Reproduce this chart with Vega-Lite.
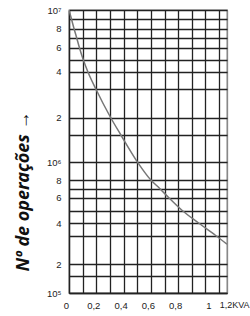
{
  "$schema": "https://vega.github.io/schema/vega-lite/v6.json",
  "width": 158,
  "height": 283,
  "autosize": "none",
  "padding": {"left": 69, "top": 10, "right": 23, "bottom": 23},
  "background": "white",
  "config": {"view": {"stroke": "#888", "strokeWidth": 1.3}},
  "data": {"values": [
    {"kva": 0, "ops": 10000000},
    {"kva": 0.018, "ops": 9000000},
    {"kva": 0.037, "ops": 8000000},
    {"kva": 0.056, "ops": 7000000},
    {"kva": 0.076, "ops": 6000000},
    {"kva": 0.104, "ops": 5000000},
    {"kva": 0.138, "ops": 4000000},
    {"kva": 0.195, "ops": 3000000},
    {"kva": 0.305, "ops": 2000000},
    {"kva": 0.378, "ops": 1500000},
    {"kva": 0.503, "ops": 1000000},
    {"kva": 0.6, "ops": 800000},
    {"kva": 0.665, "ops": 700000},
    {"kva": 0.73, "ops": 600000},
    {"kva": 0.83, "ops": 500000},
    {"kva": 0.95, "ops": 400000},
    {"kva": 1.075, "ops": 300000},
    {"kva": 1.158, "ops": 265000}
  ]},
  "mark": {"type": "line", "color": "#777", "strokeWidth": 1.5, "clip": true, "interpolate": "monotone"},
  "encoding": {
    "x": {
      "field": "kva", "type": "quantitative",
      "scale": {"domain": [0, 1.158], "nice": false, "zero": false},
      "axis": {
        "title": null,
        "values": [0, 0.1, 0.2, 0.3, 0.4, 0.5, 0.6, 0.7, 0.8, 0.9, 1, 1.1, 1.158],
        "labelExpr": "datum.value > 1.15 ? '1,2KVA' : (round(datum.value*10) % 2 == 0 ? replace(format(datum.value, '.1~f'), '.', ',') : '')",
        "grid": true,
        "gridColor": {"condition": {"test": "datum.value > 1.15", "value": "#888"}, "value": "#222"},
        "gridWidth": 1.3,
        "gridOpacity": 1,
        "ticks": false,
        "domain": true,
        "domainColor": "#222",
        "domainWidth": 1.3,
        "labelOverlap": false,
        "labelFlush": false,
        "labelBound": false,
        "labelFont": "Liberation Sans, sans-serif",
        "labelFontSize": {"condition": {"test": "datum.value > 1.15", "value": 9}, "value": 9.5},
        "labelColor": "#222",
        "labelPadding": 7,
        "labelAlign": {"condition": {"test": "datum.value > 1.15", "value": "right"}, "value": "center"},
        "labelOffset": {"condition": [{"test": "datum.value == 1", "value": 3}, {"test": "datum.value > 1.15", "value": 22}], "value": -3}
      }
    },
    "y": {
      "field": "ops", "type": "quantitative",
      "scale": {
        "type": "log",
        "domain": [100000, 150000, 200000, 300000, 400000, 500000, 600000, 700000, 800000, 1000000, 1500000, 2000000, 3000000, 4000000, 5000000, 6000000, 7000000, 8000000, 9000000, 10000000],
        "range": [283, 266, 254, 225.5, 213, 200.5, 187.5, 178.5, 170, 152.3, 124.5, 107.5, 78.5, 61.7, 49.5, 37.5, 27.7, 18.7, 9, 0],
        "nice": false
      },
      "axis": {
        "title": "Nº de operações →",
        "titleFont": "Noto Sans, Open Sans, sans-serif",
        "titleFontSize": 18,
        "titleFontStyle": "italic",
        "titleFontWeight": "bold",
        "titleColor": "#111",
        "titleX": -46,
        "titleY": 181,
        "titleAlign": "center",
        "titleBaseline": "middle",
        "values": [100000, 150000, 200000, 300000, 400000, 500000, 600000, 700000, 800000, 1000000, 1500000, 2000000, 3000000, 4000000, 5000000, 6000000, 7000000, 8000000, 9000000, 10000000],
        "labelExpr": "datum.value == 100000 ? '10⁵' : datum.value == 1000000 ? '10⁶' : datum.value == 10000000 ? '10⁷' : (indexof([200000, 400000, 600000, 800000, 2000000, 4000000, 6000000, 8000000], datum.value) >= 0 ? format(datum.value / pow(10, floor(log(datum.value) / LN10)), 'd') : '')",
        "grid": true,
        "gridColor": "#222",
        "gridWidth": 1.3,
        "gridOpacity": 1,
        "ticks": false,
        "domain": true,
        "domainColor": "#222",
        "domainWidth": 1.3,
        "labelOverlap": false,
        "labelFlush": false,
        "labelFont": "Liberation Sans, sans-serif",
        "labelFontSize": 9.5,
        "labelColor": "#222",
        "labelPadding": 8
      }
    }
  }
}
